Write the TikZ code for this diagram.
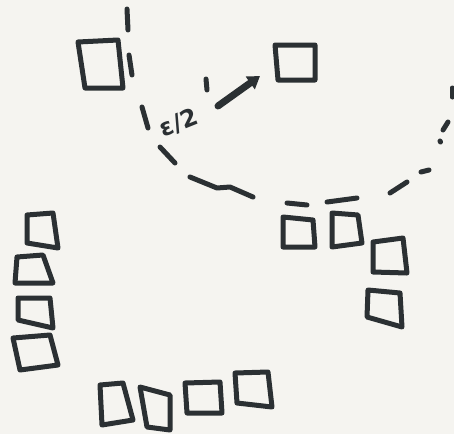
\documentclass[tikz,border=0pt]{standalone}
\usepackage{fontspec}
\newfontfamily\handfont{DejaVu Sans}
\usetikzlibrary{arrows.meta}
\definecolor{inkc}{HTML}{2B3033}
\definecolor{paperc}{HTML}{F5F4F0}
\begin{document}
\begin{tikzpicture}[x=1pt,y=-1pt,
  ink/.style={draw=inkc, line width=5pt, line cap=round, line join=round},
  dashpiece/.style={draw=inkc, line width=5pt, line cap=round, line join=round},
  lbl/.style={text=inkc, inner sep=0pt, font=\handfont\bfseries\fontsize{24}{24}\selectfont}]
\fill[paperc] (0,0) rectangle (454,434);
\useasboundingbox (0,0) rectangle (454,434);
% top squares
\draw[ink] (78,42) -- (118,40) -- (123,88) -- (85,88) -- cycle;
\draw[ink] (275,45) -- (315,45) -- (315,80) -- (278,80) -- cycle;
% left column
\draw[ink] (27,215) -- (53,213) -- (58,248) -- (27,243) -- cycle;
\draw[ink] (17,257) -- (43,255) -- (53,283) -- (15,283) -- cycle;
\draw[ink] (18,298) -- (50,298) -- (53,328) -- (18,320) -- cycle;
\draw[ink] (13,338) -- (50,335) -- (58,365) -- (20,370) -- cycle;
% bottom row
\draw[ink] (100,385) -- (123,383) -- (133,420) -- (102,425) -- cycle;
\draw[ink] (140,387) -- (170,395) -- (170,430) -- (147,427) -- cycle;
\draw[ink] (185,383) -- (220,382) -- (222,413) -- (187,413) -- cycle;
\draw[ink] (235,373) -- (268,372) -- (272,407) -- (237,403) -- cycle;
% right group
\draw[ink] (283,217) -- (313,220) -- (315,247) -- (283,247) -- cycle;
\draw[ink] (332,213) -- (358,215) -- (362,243) -- (332,247) -- cycle;
\draw[ink] (373,242) -- (403,238) -- (407,273) -- (373,272) -- cycle;
\draw[ink] (368,290) -- (400,293) -- (402,327) -- (367,317) -- cycle;
% dashed arc pieces
\draw[dashpiece] (127,9) -- (128,30);
\draw[dashpiece] (129,55) -- (132,75);
\draw[dashpiece] (142,107) -- (148,128);
\draw[dashpiece] (160,147) -- (175,163);
\draw[dashpiece] (190,177) -- (217,188) -- (230,187) -- (253,197);
\draw[dashpiece] (287,203) -- (307,205);
\draw[dashpiece] (327,202) -- (357,198);
\draw[dashpiece] (390,193) -- (407,182);
\draw[dashpiece] (421,172) -- (429,170);
\draw[dashpiece] (440,141) -- (440.5,142);
\draw[dashpiece] (443,130) -- (448,122);
\draw[dashpiece] (452,88) -- (452,97);
% tick
\draw[dashpiece] (206,79) -- (207,90);
% label and arrow
\node[lbl, rotate=22] (lab) at (179,123) {ε/2};
\coordinate (a0) at (218,106);
\coordinate (a1) at (260,76);
\draw[draw=inkc, line width=7pt, line cap=round, -{Triangle[length=12pt,width=15pt]}] (a0) -- (a1);
\end{tikzpicture}
\end{document}
